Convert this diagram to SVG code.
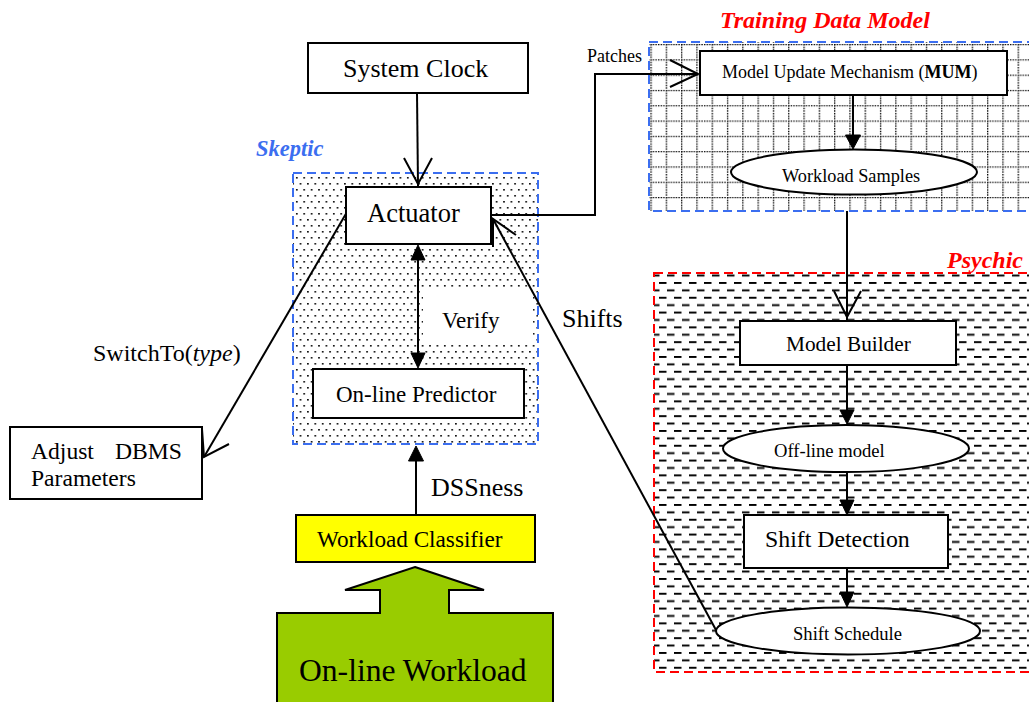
<svg xmlns="http://www.w3.org/2000/svg" width="1029" height="702" viewBox="0 0 1029 702">
  <defs>
    <!-- stippled fill of the Skeptic area -->
    <pattern id="dots" patternUnits="userSpaceOnUse" x="295" y="176" width="7.4" height="12">
      <rect x="1" y="1" width="1.6" height="1.6" fill="#000"/>
      <rect x="4.7" y="7" width="1.6" height="1.6" fill="#000"/>
    </pattern>
    <!-- dotted grid of the Training Data Model area -->
    <pattern id="grid" patternUnits="userSpaceOnUse" x="650.4" y="44" width="15.3" height="15.3">
      <line x1="0.6" y1="0" x2="0.6" y2="15.3" stroke="#000" stroke-width="1.4" stroke-dasharray="1.4 1.15"/>
      <line x1="0" y1="0.6" x2="15.3" y2="0.6" stroke="#000" stroke-width="1.4" stroke-dasharray="1.4 1.15"/>
    </pattern>
    <!-- staggered dashes of the Psychic area -->
    <pattern id="dashes" patternUnits="userSpaceOnUse" x="652" y="282" width="15" height="14.8">
      <rect x="7" y="0" width="7.5" height="1.9" fill="#000"/>
      <rect x="0" y="7.4" width="7.5" height="1.9" fill="#000"/>
    </pattern>
  </defs>
  <style>
    .box { fill: #fff; stroke: #000; stroke-width: 2; }
    .t { font-family: "Liberation Serif", "Times New Roman", serif; fill: #000; }
    .title { font-family: "Liberation Serif", "Times New Roman", serif; font-weight: bold; font-style: italic; }
    .wire { fill: none; stroke: #000; stroke-width: 2; }
    .head { fill: #000; stroke: #000; stroke-width: 1; }
  </style>

  <rect width="1029" height="702" fill="#fff"/>

  <!-- Skeptic container -->
  <g id="skeptic">
    <rect x="293" y="173" width="245" height="271" fill="#fff"/>
    <rect x="293" y="173" width="245" height="271" fill="url(#dots)"/>
    <rect x="423" y="290" width="110" height="55" fill="#fff"/>
    <rect x="293" y="173" width="245" height="271" fill="none" stroke="#3b6ef0" stroke-width="2" stroke-dasharray="9 5"/>
    <text class="title" x="256" y="156" font-size="22.5" fill="#3b6ef0">Skeptic</text>
  </g>

  <!-- Training Data Model container -->
  <g id="training">
    <rect x="649" y="42" width="384" height="169" fill="#fff"/>
    <rect x="649" y="42" width="384" height="169" fill="url(#grid)"/>
    <rect x="649" y="42" width="384" height="169" fill="none" stroke="#3b6ef0" stroke-width="2" stroke-dasharray="9 5"/>
    <text class="title" x="720" y="28" font-size="24" fill="#ff0000">Training Data Model</text>
  </g>

  <!-- Psychic container -->
  <g id="psychic">
    <rect x="654" y="273" width="380" height="399" fill="#fff"/>
    <rect x="654" y="273" width="380" height="399" fill="url(#dashes)"/>
    <rect x="654" y="273" width="380" height="399" fill="none" stroke="#ff0000" stroke-width="2" stroke-dasharray="9 5"/>
    <text class="title" x="947" y="268" font-size="24" fill="#ff0000">Psychic</text>
  </g>

  <!-- connectors -->
  <g id="connectors">
    <!-- System Clock -> Actuator -->
    <line class="wire" x1="417" y1="93" x2="418" y2="186"/>
    <polyline class="wire" points="404,158 418,184 432,158"/>

    <!-- Actuator <-> On-line Predictor (Verify) -->
    <line class="wire" x1="418" y1="250" x2="418" y2="362"/>
    <polygon class="head" points="418,245 411,260 425,260"/>
    <polygon class="head" points="418,368 411,353 425,353"/>
    <text class="t" x="442" y="328" font-size="23">Verify</text>

    <!-- Workload Classifier -> On-line Predictor (DSSness) -->
    <line class="wire" x1="416" y1="515" x2="416" y2="455"/>
    <polygon class="head" points="416,446 408.5,461 423.5,461"/>
    <text class="t" x="431" y="496" font-size="26">DSSness</text>

    <!-- Actuator -> MUM (Patches) -->
    <polyline class="wire" points="491,215 595,215 595,74 697,74"/>
    <polyline class="wire" points="670,60 698,74 670,87"/>
    <text class="t" x="587" y="62" font-size="18">Patches</text>

    <!-- MUM -> Workload Samples -->
    <line class="wire" x1="853" y1="95" x2="853" y2="140"/>
    <polygon class="head" points="853,149 845.5,135 860.5,135"/>

    <!-- Workload Samples -> Model Builder -->
    <line class="wire" x1="847" y1="211" x2="847" y2="320"/>
    <polyline class="wire" points="834,291 847,317 861,291"/>

    <!-- Model Builder -> Off-line model -->
    <line class="wire" x1="847" y1="365" x2="847" y2="415"/>
    <polygon class="head" points="847,424 840,410 854,410"/>

    <!-- Off-line model -> Shift Detection -->
    <line class="wire" x1="847" y1="472" x2="847" y2="506"/>
    <polygon class="head" points="847,515 840,500 854,500"/>

    <!-- Shift Detection -> Shift Schedule -->
    <line class="wire" x1="847" y1="568" x2="847" y2="598"/>
    <polygon class="head" points="847,607 840,592 854,592"/>

    <!-- Shift Schedule -> Actuator (Shifts) -->
    <line class="wire" x1="716" y1="630" x2="493" y2="219"/>
    <polyline class="wire" points="516,235 493,219 493,247"/>
    <text class="t" x="562" y="327" font-size="26">Shifts</text>

    <!-- Actuator -> Adjust DBMS Parameters (SwitchTo) -->
    <line class="wire" x1="347" y1="212" x2="204" y2="457"/>
    <polyline class="wire" points="229,444 204,457 202,429"/>
    <text class="t" x="93" y="361" font-size="24">SwitchTo(<tspan font-style="italic">type</tspan>)</text>
  </g>

  <!-- nodes -->
  <g id="system-clock">
    <rect class="box" x="308" y="43" width="220" height="50"/>
    <text class="t" x="343" y="77" font-size="26">System Clock</text>
  </g>

  <g id="actuator">
    <rect class="box" x="346" y="187" width="145" height="57"/>
    <text class="t" x="367" y="222" font-size="26.5">Actuator</text>
  </g>

  <g id="online-predictor">
    <rect class="box" x="313" y="369" width="211" height="49"/>
    <text class="t" x="336" y="402" font-size="23">On-line Predictor</text>
  </g>

  <g id="adjust-dbms">
    <rect class="box" x="10" y="427" width="192" height="72"/>
    <text class="t" x="31" y="459" font-size="23.6">Adjust</text>
    <text class="t" x="115" y="459" font-size="23.6">DBMS</text>
    <text class="t" x="31" y="486" font-size="23.6">Parameters</text>
  </g>

  <g id="workload-classifier">
    <rect class="box" x="296" y="515" width="239" height="47" style="fill:#ffff00"/>
    <text class="t" x="317" y="547" font-size="23.2">Workload Classifier</text>
  </g>

  <g id="online-workload">
    <polygon points="415,567 484,590 449,590 449,613 553,613 553,706 277,706 277,613 380,613 380,590 345,590" fill="#99cc00" stroke="#000" stroke-width="2" stroke-linejoin="miter"/>
    <text class="t" x="299" y="681" font-size="31.6">On-line Workload</text>
  </g>

  <g id="mum">
    <rect class="box" x="700" y="51" width="307" height="44"/>
    <text class="t" x="722" y="78" font-size="18">Model Update Mechanism (<tspan font-weight="bold">MUM</tspan>)</text>
  </g>

  <g id="workload-samples">
    <ellipse class="box" cx="854" cy="172" rx="123" ry="22.5"/>
    <text class="t" x="782" y="182" font-size="18.3">Workload Samples</text>
  </g>

  <g id="model-builder">
    <rect class="box" x="740" y="321" width="216" height="44"/>
    <text class="t" x="786" y="351" font-size="21.3">Model Builder</text>
  </g>

  <g id="offline-model">
    <ellipse class="box" cx="846" cy="448.5" rx="123" ry="23.5"/>
    <text class="t" x="774" y="457" font-size="18.6">Off-line model</text>
  </g>

  <g id="shift-detection">
    <rect class="box" x="744" y="515" width="204" height="53"/>
    <text class="t" x="765" y="547" font-size="23.8">Shift Detection</text>
  </g>

  <g id="shift-schedule">
    <ellipse class="box" cx="848" cy="631" rx="132" ry="23.5"/>
    <text class="t" x="793" y="640" font-size="18.6">Shift Schedule</text>
  </g>
</svg>
